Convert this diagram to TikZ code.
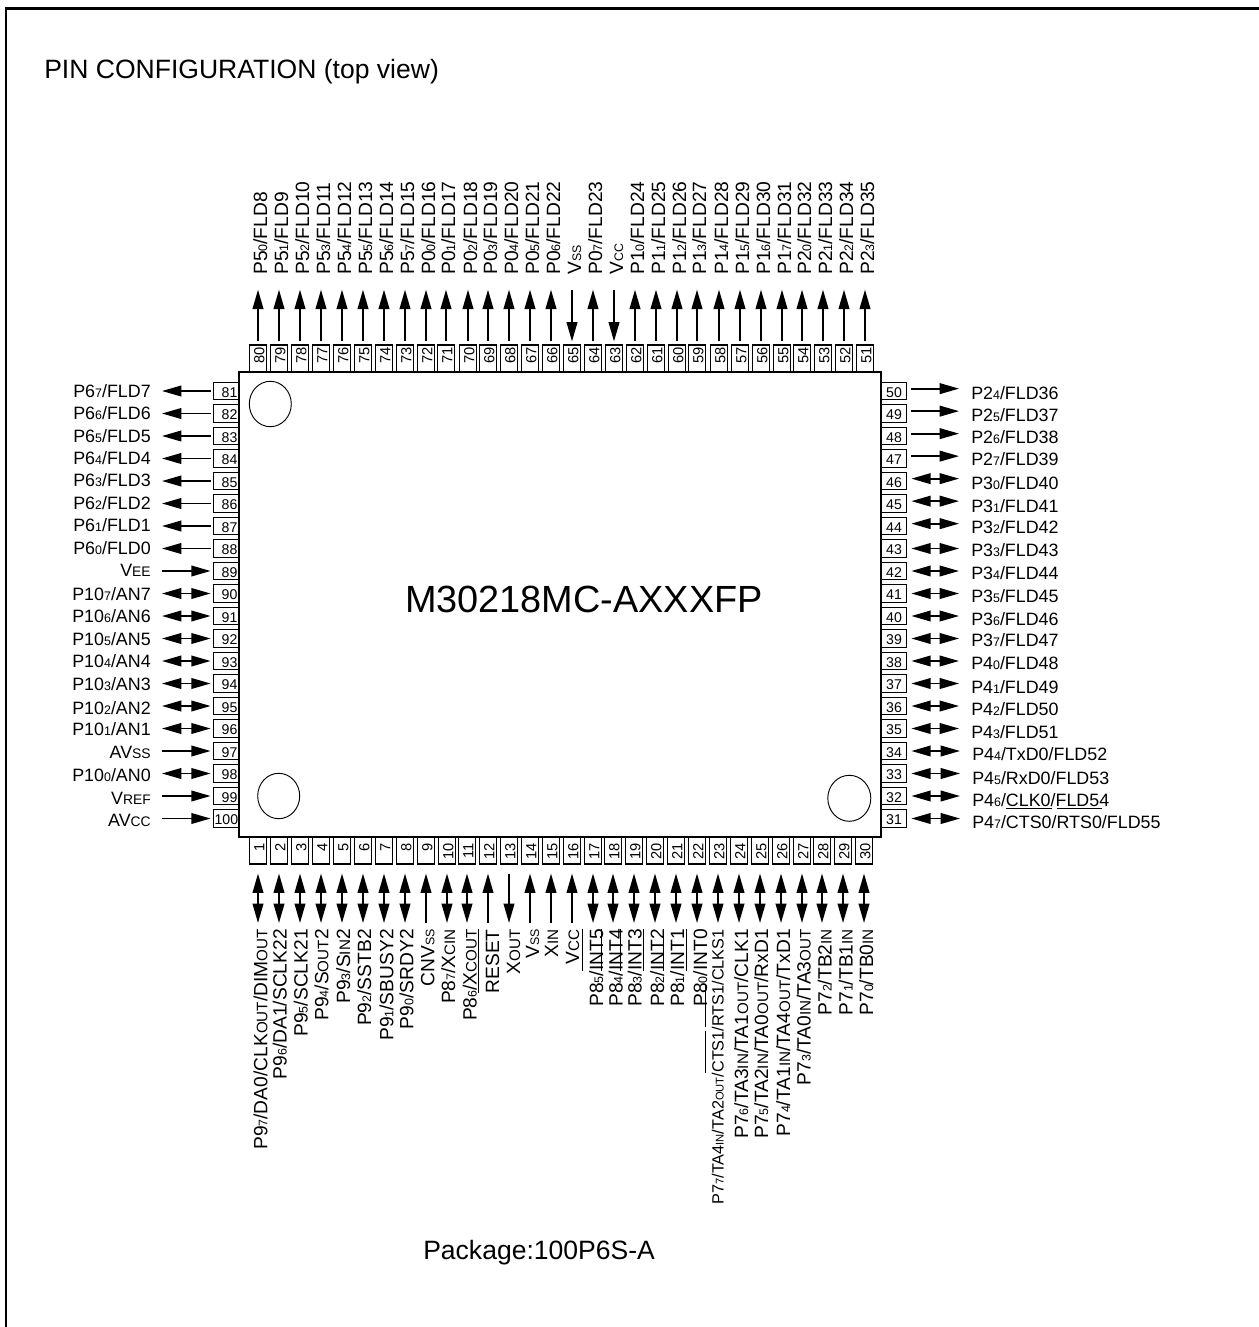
\documentclass[tikz,border=0pt]{standalone}
\usepackage{fontspec}
\setmainfont{Liberation Sans}
\usetikzlibrary{arrows.meta}

\newcommand{\lo}[1]{{\fontsize{9.3}{10}\selectfont #1}}
\newcommand{\lh}[1]{{\fontsize{10.4}{11}\selectfont #1}}
\newcommand{\lw}[1]{{\fontsize{11.4}{12}\selectfont #1}}
\newcommand{\lot}[1]{{\fontsize{8.4}{9}\selectfont #1}}
\newcommand{\ovl}[1]{$\overline{\mbox{\rule{0pt}{1em}#1}}$}

\tikzset{
  pintip/.tip={Triangle[length=14.5pt,width=8pt]},
  pinbox/.style={draw,line width=0.8pt,inner ysep=0pt,minimum height=13.25pt,text depth=0pt},
  leftpin/.style={pinbox,text height=9.1pt,font=\fontsize{10.6}{12}\selectfont,text width=17.2pt,inner xsep=1.05pt,align=right},
  rightpin/.style={pinbox,text height=9.1pt,font=\fontsize{10.6}{12}\selectfont,text width=19.3pt,inner xsep=0pt,align=center},
  toppin/.style={pinbox,rotate=90,text height=9.6pt,font=\fontsize{11}{12}\selectfont,text width=16.25pt,inner xsep=2pt,align=right},
  botpin/.style={pinbox,rotate=90,text height=9.6pt,font=\fontsize{11}{12}\selectfont,text width=20.25pt,inner xsep=0pt,align=right,execute at end node={\hspace*{5pt}}},
  pinlabel/.style={inner sep=0pt,font=\fontsize{13.4}{15}\selectfont},
  leftlabel/.style={pinlabel,anchor=base east},
  rightlabel/.style={pinlabel,anchor=base west},
  toplabel/.style={pinlabel,rotate=90,anchor=base west,font=\fontsize{14.4}{16}\selectfont},
  botlabel/.style={pinlabel,rotate=90,anchor=base east,font=\fontsize{14.4}{16}\selectfont},
  bigtext/.style={inner sep=0pt,font=\fontsize{19.9}{22}\selectfont},
  wire/.style={line width=1.3pt},
  outarrow/.style={wire,-pintip},
  inarrow/.style={wire,pintip-},
  bothway/.style={wire,pintip-pintip},
  leftwire/.style={shorten <=1.5pt,shorten >=8.25pt},
  rightwire/.style={shorten <=3pt,shorten >=9pt},
  topwire/.style={shorten <=2.25pt,shorten >=11pt},
  botwire/.style={shorten <=6.75pt,shorten >=4.5pt},
}

\begin{document}
\begin{tikzpicture}[x=0.75pt,y=0.75pt,yscale=-1,xscale=1]
\useasboundingbox (0,0) rectangle (1259,1327);

%Straight Lines
\draw [line width=1.75pt] (6.2,1327) -- (6.2,8.5) -- (1259,8.5) ;
%Shape: Rectangle
\draw [line width=1.2pt] (239,372) -- (881,372) -- (881,837) -- (239,837) -- cycle ;
%Shape: Ellipse
\draw [line width=0.7pt] (270.3,404) ellipse (21 and 22.7) ;
\draw [line width=0.7pt] (278.7,796) ellipse (21 and 22.7) ;
\draw [line width=0.7pt] (849.3,798.3) ellipse (21.5 and 23) ;

% Text Node
\draw (44,79) node [bigtext,anchor=base west] (title) {PIN CONFIGURATION (top view)};
% Text Node
\draw (584,612.7) node [inner sep=0pt,anchor=base,font=\fontsize{28.4}{32}\selectfont] (partname) {M30218MC-AXXXFP};
% Text Node
\draw (423,1259.3) node [bigtext,anchor=base west] (package) {Package:100P6S-A};

%Shape: Rectangle
\draw (258,358.5) node [toppin] (p80) {80};
\draw (279,358.5) node [toppin] (p79) {79};
\draw (300,358.5) node [toppin] (p78) {78};
\draw (321,358.5) node [toppin] (p77) {77};
\draw (342,358.5) node [toppin] (p76) {76};
\draw (363,358.5) node [toppin] (p75) {75};
\draw (384,358.5) node [toppin] (p74) {74};
\draw (405,358.5) node [toppin] (p73) {73};
\draw (426,358.5) node [toppin] (p72) {72};
\draw (446,358.5) node [toppin] (p71) {71};
\draw (468,358.5) node [toppin] (p70) {70};
\draw (488,358.5) node [toppin] (p69) {69};
\draw (509,358.5) node [toppin] (p68) {68};
\draw (530,358.5) node [toppin] (p67) {67};
\draw (551,358.5) node [toppin] (p66) {66};
\draw (572,358.5) node [toppin] (p65) {65};
\draw (593,358.5) node [toppin] (p64) {64};
\draw (614,358.5) node [toppin] (p63) {63};
\draw (635,358.5) node [toppin] (p62) {62};
\draw (656,358.5) node [toppin] (p61) {61};
\draw (677,358.5) node [toppin] (p60) {60};
\draw (697,358.5) node [toppin] (p59) {59};
\draw (719,358.5) node [toppin] (p58) {58};
\draw (740,358.5) node [toppin] (p57) {57};
\draw (761,358.5) node [toppin] (p56) {56};
\draw (782,358.5) node [toppin] (p55) {55};
\draw (802,358.5) node [toppin] (p54) {54};
\draw (823,358.5) node [toppin] (p53) {53};
\draw (844,358.5) node [toppin] (p52) {52};
\draw (865,358.5) node [toppin] (p51) {51};

% Text Node
\draw (267,275) node [toplabel] (t80) {P5\lo{0}/FLD8};
\draw (288,275) node [toplabel] (t79) {P5\lo{1}/FLD9};
\draw (309,275) node [toplabel] (t78) {P5\lo{2}/FLD10};
\draw (330,275) node [toplabel] (t77) {P5\lo{3}/FLD11};
\draw (351,275) node [toplabel] (t76) {P5\lo{4}/FLD12};
\draw (372,275) node [toplabel] (t75) {P5\lo{5}/FLD13};
\draw (393,275) node [toplabel] (t74) {P5\lo{6}/FLD14};
\draw (414,275) node [toplabel] (t73) {P5\lo{7}/FLD15};
\draw (435,275) node [toplabel] (t72) {P0\lo{0}/FLD16};
\draw (455,275) node [toplabel] (t71) {P0\lo{1}/FLD17};
\draw (477,275) node [toplabel] (t70) {P0\lo{2}/FLD18};
\draw (497,275) node [toplabel] (t69) {P0\lo{3}/FLD19};
\draw (518,275) node [toplabel] (t68) {P0\lo{4}/FLD20};
\draw (539,275) node [toplabel] (t67) {P0\lo{5}/FLD21};
\draw (560,275) node [toplabel] (t66) {P0\lo{6}/FLD22};
\draw (581,275) node [toplabel] (t65) {V\lo{SS}};
\draw (602,275) node [toplabel] (t64) {P0\lo{7}/FLD23};
\draw (623,275) node [toplabel] (t63) {V\lo{CC}};
\draw (644,275) node [toplabel] (t62) {P1\lo{0}/FLD24};
\draw (665,275) node [toplabel] (t61) {P1\lo{1}/FLD25};
\draw (686,275) node [toplabel] (t60) {P1\lo{2}/FLD26};
\draw (706,275) node [toplabel] (t59) {P1\lo{3}/FLD27};
\draw (728,275) node [toplabel] (t58) {P1\lo{4}/FLD28};
\draw (749,275) node [toplabel] (t57) {P1\lo{5}/FLD29};
\draw (770,275) node [toplabel] (t56) {P1\lo{6}/FLD30};
\draw (791,275) node [toplabel] (t55) {P1\lo{7}/FLD31};
\draw (811,275) node [toplabel] (t54) {P2\lo{0}/FLD32};
\draw (832,275) node [toplabel] (t53) {P2\lo{1}/FLD33};
\draw (853,275) node [toplabel] (t52) {P2\lo{2}/FLD34};
\draw (874,275) node [toplabel] (t51) {P2\lo{3}/FLD35};

%Straight Lines
\draw [outarrow,topwire] (p80.east) -- (t80.west -| p80.east) ;
\draw [outarrow,topwire] (p79.east) -- (t79.west -| p79.east) ;
\draw [outarrow,topwire] (p78.east) -- (t78.west -| p78.east) ;
\draw [outarrow,topwire] (p77.east) -- (t77.west -| p77.east) ;
\draw [outarrow,topwire] (p76.east) -- (t76.west -| p76.east) ;
\draw [outarrow,topwire] (p75.east) -- (t75.west -| p75.east) ;
\draw [outarrow,topwire] (p74.east) -- (t74.west -| p74.east) ;
\draw [outarrow,topwire] (p73.east) -- (t73.west -| p73.east) ;
\draw [outarrow,topwire] (p72.east) -- (t72.west -| p72.east) ;
\draw [outarrow,topwire] (p71.east) -- (t71.west -| p71.east) ;
\draw [outarrow,topwire] (p70.east) -- (t70.west -| p70.east) ;
\draw [outarrow,topwire] (p69.east) -- (t69.west -| p69.east) ;
\draw [outarrow,topwire] (p68.east) -- (t68.west -| p68.east) ;
\draw [outarrow,topwire] (p67.east) -- (t67.west -| p67.east) ;
\draw [outarrow,topwire] (p66.east) -- (t66.west -| p66.east) ;
\draw [inarrow,topwire] (p65.east) -- (t65.west -| p65.east) ;
\draw [outarrow,topwire] (p64.east) -- (t64.west -| p64.east) ;
\draw [inarrow,topwire] (p63.east) -- (t63.west -| p63.east) ;
\draw [outarrow,topwire] (p62.east) -- (t62.west -| p62.east) ;
\draw [outarrow,topwire] (p61.east) -- (t61.west -| p61.east) ;
\draw [outarrow,topwire] (p60.east) -- (t60.west -| p60.east) ;
\draw [outarrow,topwire] (p59.east) -- (t59.west -| p59.east) ;
\draw [outarrow,topwire] (p58.east) -- (t58.west -| p58.east) ;
\draw [outarrow,topwire] (p57.east) -- (t57.west -| p57.east) ;
\draw [outarrow,topwire] (p56.east) -- (t56.west -| p56.east) ;
\draw [outarrow,topwire] (p55.east) -- (t55.west -| p55.east) ;
\draw [outarrow,topwire] (p54.east) -- (t54.west -| p54.east) ;
\draw [outarrow,topwire] (p53.east) -- (t53.west -| p53.east) ;
\draw [outarrow,topwire] (p52.east) -- (t52.west -| p52.east) ;
\draw [outarrow,topwire] (p51.east) -- (t51.west -| p51.east) ;

%Shape: Rectangle
\draw (226,391) node [leftpin] (p81) {81};
\draw (226,413.5) node [leftpin] (p82) {82};
\draw (226,436) node [leftpin] (p83) {83};
\draw (226,458.5) node [leftpin] (p84) {84};
\draw (226,481) node [leftpin] (p85) {85};
\draw (226,503.5) node [leftpin] (p86) {86};
\draw (226,526) node [leftpin] (p87) {87};
\draw (226,548.5) node [leftpin] (p88) {88};
\draw (226,571) node [leftpin] (p89) {89};
\draw (226,593.5) node [leftpin] (p90) {90};
\draw (226,616) node [leftpin] (p91) {91};
\draw (226,638.5) node [leftpin] (p92) {92};
\draw (226,661) node [leftpin] (p93) {93};
\draw (226,683.5) node [leftpin] (p94) {94};
\draw (226,706) node [leftpin] (p95) {95};
\draw (226,728.5) node [leftpin] (p96) {96};
\draw (226,751) node [leftpin] (p97) {97};
\draw (226,773.5) node [leftpin] (p98) {98};
\draw (226,796) node [leftpin] (p99) {99};
\draw (226,818.5) node [leftpin] (p100) {100};

% Text Node
\draw (151,397) node [leftlabel] (t81) {P6\lo{7}/FLD7};
\draw (151,419) node [leftlabel] (t82) {P6\lo{6}/FLD6};
\draw (151,442) node [leftlabel] (t83) {P6\lo{5}/FLD5};
\draw (151,464) node [leftlabel] (t84) {P6\lo{4}/FLD4};
\draw (151,486) node [leftlabel] (t85) {P6\lo{3}/FLD3};
\draw (151,509) node [leftlabel] (t86) {P6\lo{2}/FLD2};
\draw (151,531) node [leftlabel] (t87) {P6\lo{1}/FLD1};
\draw (151,554) node [leftlabel] (t88) {P6\lo{0}/FLD0};
\draw (151,576) node [leftlabel] (t89) {V\lh{EE}};
\draw (151,600) node [leftlabel] (t90) {P10\lo{7}/AN7};
\draw (151,622) node [leftlabel] (t91) {P10\lo{6}/AN6};
\draw (151,645) node [leftlabel] (t92) {P10\lo{5}/AN5};
\draw (151,667) node [leftlabel] (t93) {P10\lo{4}/AN4};
\draw (151,690) node [leftlabel] (t94) {P10\lo{3}/AN3};
\draw (151,714) node [leftlabel] (t95) {P10\lo{2}/AN2};
\draw (151,735) node [leftlabel] (t96) {P10\lo{1}/AN1};
\draw (151,758) node [leftlabel] (t97) {AV\lh{SS}};
\draw (151,781) node [leftlabel] (t98) {P10\lo{0}/AN0};
\draw (151,804) node [leftlabel] (t99) {V\lh{REF}};
\draw (151,826) node [leftlabel] (t100) {AV\lh{CC}};

%Straight Lines
\draw [outarrow,leftwire] (p81.west) -- (t81.east |- p81.west) ;
\draw [outarrow,leftwire] (p82.west) -- (t82.east |- p82.west) ;
\draw [outarrow,leftwire] (p83.west) -- (t83.east |- p83.west) ;
\draw [outarrow,leftwire] (p84.west) -- (t84.east |- p84.west) ;
\draw [outarrow,leftwire] (p85.west) -- (t85.east |- p85.west) ;
\draw [outarrow,leftwire] (p86.west) -- (t86.east |- p86.west) ;
\draw [outarrow,leftwire] (p87.west) -- (t87.east |- p87.west) ;
\draw [outarrow,leftwire] (p88.west) -- (t88.east |- p88.west) ;
\draw [inarrow,leftwire] (p89.west) -- (t89.east |- p89.west) ;
\draw [bothway,leftwire] (p90.west) -- (t90.east |- p90.west) ;
\draw [bothway,leftwire] (p91.west) -- (t91.east |- p91.west) ;
\draw [bothway,leftwire] (p92.west) -- (t92.east |- p92.west) ;
\draw [bothway,leftwire] (p93.west) -- (t93.east |- p93.west) ;
\draw [bothway,leftwire] (p94.west) -- (t94.east |- p94.west) ;
\draw [bothway,leftwire] (p95.west) -- (t95.east |- p95.west) ;
\draw [bothway,leftwire] (p96.west) -- (t96.east |- p96.west) ;
\draw [inarrow,leftwire] (p97.west) -- (t97.east |- p97.west) ;
\draw [bothway,leftwire] (p98.west) -- (t98.east |- p98.west) ;
\draw [inarrow,leftwire] (p99.west) -- (t99.east |- p99.west) ;
\draw [inarrow,leftwire] (p100.west) -- (t100.east |- p100.west) ;

%Shape: Rectangle
\draw (894,391) node [rightpin] (p50) {50};
\draw (894,413.5) node [rightpin] (p49) {49};
\draw (894,436) node [rightpin] (p48) {48};
\draw (894,458.5) node [rightpin] (p47) {47};
\draw (894,481) node [rightpin] (p46) {46};
\draw (894,503.5) node [rightpin] (p45) {45};
\draw (894,526) node [rightpin] (p44) {44};
\draw (894,548.5) node [rightpin] (p43) {43};
\draw (894,571) node [rightpin] (p42) {42};
\draw (894,593.5) node [rightpin] (p41) {41};
\draw (894,616) node [rightpin] (p40) {40};
\draw (894,638.5) node [rightpin] (p39) {39};
\draw (894,661) node [rightpin] (p38) {38};
\draw (894,683.5) node [rightpin] (p37) {37};
\draw (894,706) node [rightpin] (p36) {36};
\draw (894,728.5) node [rightpin] (p35) {35};
\draw (894,751) node [rightpin] (p34) {34};
\draw (894,773.5) node [rightpin] (p33) {33};
\draw (894,796) node [rightpin] (p32) {32};
\draw (894,818.5) node [rightpin] (p31) {31};

% Text Node
\draw (971,399) node [rightlabel] (t50) {P2\lo{4}/FLD36};
\draw (971,421) node [rightlabel] (t49) {P2\lo{5}/FLD37};
\draw (971,443) node [rightlabel] (t48) {P2\lo{6}/FLD38};
\draw (971,465) node [rightlabel] (t47) {P2\lo{7}/FLD39};
\draw (971,489) node [rightlabel] (t46) {P3\lo{0}/FLD40};
\draw (971,512) node [rightlabel] (t45) {P3\lo{1}/FLD41};
\draw (971,533) node [rightlabel] (t44) {P3\lo{2}/FLD42};
\draw (971,556) node [rightlabel] (t43) {P3\lo{3}/FLD43};
\draw (971,579) node [rightlabel] (t42) {P3\lo{4}/FLD44};
\draw (971,602) node [rightlabel] (t41) {P3\lo{5}/FLD45};
\draw (971,625) node [rightlabel] (t40) {P3\lo{6}/FLD46};
\draw (971,646) node [rightlabel] (t39) {P3\lo{7}/FLD47};
\draw (971,669) node [rightlabel] (t38) {P4\lo{0}/FLD48};
\draw (971,693) node [rightlabel] (t37) {P4\lo{1}/FLD49};
\draw (971,715) node [rightlabel] (t36) {P4\lo{2}/FLD50};
\draw (971,738) node [rightlabel] (t35) {P4\lo{3}/FLD51};
\draw (972,760) node [rightlabel] (t34) {P4\lo{4}/TxD0/FLD52};
\draw (972,784) node [rightlabel] (t33) {P4\lo{5}/RxD0/FLD53};
\draw (972,806) node [rightlabel] (t32) {P4\lo{6}/CLK0/FLD54};
\draw (972,828) node [rightlabel] (t31) {P4\lo{7}/\ovl{CTS0}/\ovl{RTS0}/FLD55};

%Straight Lines
\draw [outarrow,rightwire] (p50.10) -- (t50.west |- p50.10) ;
\draw [outarrow,rightwire] (p49.10) -- (t49.west |- p49.10) ;
\draw [outarrow,rightwire] (p48.10) -- (t48.west |- p48.10) ;
\draw [outarrow,rightwire] (p47.10) -- (t47.west |- p47.10) ;
\draw [bothway,rightwire] (p46.10) -- (t46.west |- p46.10) ;
\draw [bothway,rightwire] (p45.10) -- (t45.west |- p45.10) ;
\draw [bothway,rightwire] (p44.10) -- (t44.west |- p44.10) ;
\draw [bothway,rightwire] (p43.east) -- (t43.west |- p43.east) ;
\draw [bothway,rightwire] (p42.east) -- (t42.west |- p42.east) ;
\draw [bothway,rightwire] (p41.east) -- (t41.west |- p41.east) ;
\draw [bothway,rightwire] (p40.east) -- (t40.west |- p40.east) ;
\draw [bothway,rightwire] (p39.east) -- (t39.west |- p39.east) ;
\draw [bothway,rightwire] (p38.east) -- (t38.west |- p38.east) ;
\draw [bothway,rightwire] (p37.east) -- (t37.west |- p37.east) ;
\draw [bothway,rightwire] (p36.east) -- (t36.west |- p36.east) ;
\draw [bothway,rightwire] (p35.east) -- (t35.west |- p35.east) ;
\draw [bothway,rightwire] (p34.east) -- (t34.west |- p34.east) ;
\draw [bothway,rightwire] (p33.east) -- (t33.west |- p33.east) ;
\draw [bothway,rightwire] (p32.east) -- (t32.west |- p32.east) ;
\draw [bothway,rightwire] (p31.east) -- (t31.west |- p31.east) ;

%Shape: Rectangle
\draw (258,850.5) node [botpin] (p1) {1};
\draw (279,850.5) node [botpin] (p2) {2};
\draw (300,850.5) node [botpin] (p3) {3};
\draw (321,850.5) node [botpin] (p4) {4};
\draw (342,850.5) node [botpin] (p5) {5};
\draw (363,850.5) node [botpin] (p6) {6};
\draw (384,850.5) node [botpin] (p7) {7};
\draw (405,850.5) node [botpin] (p8) {8};
\draw (426,850.5) node [botpin] (p9) {9};
\draw (447,850.5) node [botpin] (p10) {10};
\draw (467,850.5) node [botpin] (p11) {11};
\draw (488,850.5) node [botpin] (p12) {12};
\draw (509,850.5) node [botpin] (p13) {13};
\draw (530,850.5) node [botpin] (p14) {14};
\draw (551,850.5) node [botpin] (p15) {15};
\draw (572,850.5) node [botpin] (p16) {16};
\draw (593,850.5) node [botpin] (p17) {17};
\draw (613,850.5) node [botpin] (p18) {18};
\draw (634,850.5) node [botpin] (p19) {19};
\draw (655,850.5) node [botpin] (p20) {20};
\draw (676,850.5) node [botpin] (p21) {21};
\draw (697,850.5) node [botpin] (p22) {22};
\draw (718,850.5) node [botpin] (p23) {23};
\draw (739,850.5) node [botpin] (p24) {24};
\draw (760,850.5) node [botpin] (p25) {25};
\draw (781,850.5) node [botpin] (p26) {26};
\draw (802,850.5) node [botpin] (p27) {27};
\draw (822,850.5) node [botpin] (p28) {28};
\draw (843,850.5) node [botpin] (p29) {29};
\draw (864,850.5) node [botpin] (p30) {30};

% Text Node
\draw (267.3,929) node [botlabel] (t1) {P9\lo{7}/DA0/CLK\lw{OUT}/DIM\lw{OUT}};
\draw (286.7,929) node [botlabel] (t2) {P9\lo{6}/DA1/SCLK22};
\draw (307.7,929) node [botlabel] (t3) {P9\lo{5}/SCLK21};
\draw (328.3,929) node [botlabel] (t4) {P9\lo{4}/S\lw{OUT}2};
\draw (350,929) node [botlabel] (t5) {P9\lo{3}/S\lw{IN}2};
\draw (371,929) node [botlabel] (t6) {P9\lo{2}/SSTB2};
\draw (393.3,929) node [botlabel] (t7) {P9\lo{1}/SBUSY2};
\draw (413.3,929) node [botlabel] (t8) {P9\lo{0}/SRDY2};
\draw (434.3,929) node [botlabel] (t9) {CNV\lo{SS}};
\draw (455,929) node [botlabel] (t10) {P8\lo{7}/X\lw{CIN}};
\draw (476.7,929) node [botlabel] (t11) {P8\lo{6}/X\lw{COUT}};
\draw (499,929) node [botlabel] (t12) {\ovl{RESET}};
\draw (520,929) node [botlabel] (t13) {X\lw{OUT}};
\draw (539,929) node [botlabel] (t14) {V\lo{SS}};
\draw (558,929) node [botlabel] (t15) {X\lw{IN}};
\draw (579,929) node [botlabel] (t16) {V\lw{CC}};
\draw (603,929) node [botlabel] (t17) {P8\lo{5}/\ovl{INT5}};
\draw (622.7,929) node [botlabel] (t18) {P8\lo{4}/\ovl{INT4}};
\draw (641.7,929) node [botlabel] (t19) {P8\lo{3}/\ovl{INT3}};
\draw (664,929) node [botlabel] (t20) {P8\lo{2}/\ovl{INT2}};
\draw (684,929) node [botlabel] (t21) {P8\lo{1}/\ovl{INT1}};
\draw (707,929) node [botlabel] (t22) {P8\lo{0}/\ovl{INT0}};
\draw (723.5,929) node [botlabel,font=\fontsize{12.2}{14}\selectfont] (t23) {P7\lot{7}/TA4\lot{IN}/TA2\lot{OUT}/\ovl{CTS1}/\ovl{RTS1}/CLKS1};
\draw (748,929) node [botlabel] (t24) {P7\lo{6}/TA3\lw{IN}/TA1\lw{OUT}/CLK1};
\draw (768,929) node [botlabel] (t25) {P7\lo{5}/TA2\lw{IN}/TA0\lw{OUT}/RxD1};
\draw (790,929) node [botlabel] (t26) {P7\lo{4}/TA1\lw{IN}/TA4\lw{OUT}/TxD1};
\draw (810.7,929) node [botlabel] (t27) {P7\lo{3}/TA0\lw{IN}/TA3\lw{OUT}};
\draw (831.7,929) node [botlabel] (t28) {P7\lo{2}/TB2\lw{IN}};
\draw (852.7,929) node [botlabel] (t29) {P7\lo{1}/TB1\lw{IN}};
\draw (873,929) node [botlabel] (t30) {P7\lo{0}/TB0\lw{IN}};

%Straight Lines
\draw [bothway,botwire] (p1.west) -- (t1.east -| p1.west) ;
\draw [bothway,botwire] (p2.west) -- (t2.east -| p2.west) ;
\draw [bothway,botwire] (p3.west) -- (t3.east -| p3.west) ;
\draw [bothway,botwire] (p4.west) -- (t4.east -| p4.west) ;
\draw [bothway,botwire] (p5.west) -- (t5.east -| p5.west) ;
\draw [bothway,botwire] (p6.west) -- (t6.east -| p6.west) ;
\draw [bothway,botwire] (p7.west) -- (t7.east -| p7.west) ;
\draw [bothway,botwire] (p8.west) -- (t8.east -| p8.west) ;
\draw [inarrow,botwire] (p9.west) -- (t9.east -| p9.west) ;
\draw [bothway,botwire] (p10.west) -- (t10.east -| p10.west) ;
\draw [bothway,botwire] (p11.west) -- (t11.east -| p11.west) ;
\draw [inarrow,botwire] (p12.west) -- (t12.east -| p12.west) ;
\draw [outarrow,botwire] (p13.west) -- (t13.east -| p13.west) ;
\draw [inarrow,botwire] (p14.west) -- (t14.east -| p14.west) ;
\draw [inarrow,botwire] (p15.west) -- (t15.east -| p15.west) ;
\draw [inarrow,botwire] (p16.west) -- (t16.east -| p16.west) ;
\draw [bothway,botwire] (p17.west) -- (t17.east -| p17.west) ;
\draw [bothway,botwire] (p18.west) -- (t18.east -| p18.west) ;
\draw [bothway,botwire] (p19.west) -- (t19.east -| p19.west) ;
\draw [bothway,botwire] (p20.west) -- (t20.east -| p20.west) ;
\draw [bothway,botwire] (p21.west) -- (t21.east -| p21.west) ;
\draw [bothway,botwire] (p22.west) -- (t22.east -| p22.west) ;
\draw [bothway,botwire] (p23.west) -- (t23.east -| p23.west) ;
\draw [bothway,botwire] (p24.west) -- (t24.east -| p24.west) ;
\draw [bothway,botwire] (p25.west) -- (t25.east -| p25.west) ;
\draw [bothway,botwire] (p26.west) -- (t26.east -| p26.west) ;
\draw [bothway,botwire] (p27.west) -- (t27.east -| p27.west) ;
\draw [bothway,botwire] (p28.west) -- (t28.east -| p28.west) ;
\draw [bothway,botwire] (p29.west) -- (t29.east -| p29.west) ;
\draw [bothway,botwire] (p30.west) -- (t30.east -| p30.west) ;

\end{tikzpicture}
\end{document}
